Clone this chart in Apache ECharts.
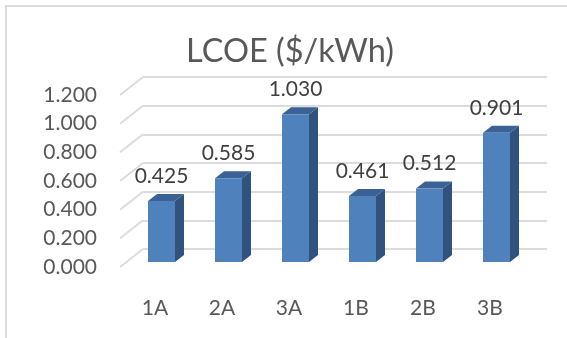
<!DOCTYPE html>
<html>
<head>
<meta charset="utf-8">
<style>html,body{margin:0;padding:0;background:#fff}#chart{width:567px;height:338px}</style>
<script src="https://cdn.jsdelivr.net/npm/echarts@6/dist/echarts.min.js"></script>
</head>
<body>
<div id="chart"></div>
<script>
const categories = ['1A', '2A', '3A', '1B', '2B', '3B'];
const lcoeValues = [0.425, 0.585, 1.030, 0.461, 0.512, 0.901];
const yTicks = [0, 0.2, 0.4, 0.6, 0.8, 1.0, 1.2];

// Pseudo-3D depth of the plot and of each column, in pixels
const WALL_DX = 23, WALL_DY = 18;
const BAR_DX = 9, BAR_DY = 7;
const GRID_COLOR = '#dcdcdc';
const FONT = 'Lato, "Open Sans", sans-serif';

const chart = echarts.init(document.getElementById('chart'), null, { renderer: 'canvas' });

function renderColumn(params, api) {
  const cat = api.value(0), val = api.value(1);
  const top = api.coord([cat, val]);
  const base = api.coord([cat, 0]);
  const w = api.size([1, 0])[0] * 0.403;
  const x0 = top[0] - w / 2, x1 = top[0] + w / 2;
  const y = top[1], b = base[1];
  const poly = (points, fill) => ({ type: 'polygon', shape: { points }, style: { fill } });
  return {
    type: 'group',
    children: [
      poly([[x1, y], [x1 + BAR_DX, y - BAR_DY], [x1 + BAR_DX, b - BAR_DY], [x1, b]], '#31527c'),
      poly([[x0, y], [x1, y], [x1 + BAR_DX, y - BAR_DY], [x0 + BAR_DX, y - BAR_DY]], '#3a6294'),
      poly([[x0, y], [x1, y], [x1, b], [x0, b]], '#4f81bd'),
      {
        type: 'text',
        style: {
          x: top[0], y: y - BAR_DY - 18,
          text: val.toFixed(3),
          align: 'center', verticalAlign: 'middle',
          font: '21px ' + FONT, fill: '#404040'
        },
        z2: 10
      }
    ]
  };
}

function renderWallEdge(params, api) {
  const p = api.coord([0, api.value(0)]);
  const x = params.coordSys.x;
  return {
    type: 'line',
    shape: { x1: x, y1: p[1], x2: x + WALL_DX, y2: p[1] - WALL_DY },
    style: { stroke: GRID_COLOR, lineWidth: 2 }
  };
}

chart.setOption({
  animation: false,
  backgroundColor: '#fff',
  title: {
    text: 'LCOE ($/kWh)',
    left: 285, top: 30, textAlign: 'center',
    textStyle: { fontFamily: FONT, fontSize: 32.5, fontWeight: 'normal', color: '#595959' }
  },
  graphic: [
    { type: 'line', shape: { x1: 5, y1: 6, x2: 567, y2: 6 }, style: { stroke: '#dcdcdc', lineWidth: 2 } },
    { type: 'line', shape: { x1: 6, y1: 5, x2: 6, y2: 338 }, style: { stroke: '#dcdcdc', lineWidth: 2 } }
  ],
  grid: [
    // front plane: axis labels and the slanted wall edges
    { left: 120, top: 95, width: 402, height: 172 },
    // back wall: horizontal gridlines
    { left: 143, top: 77, width: 404, height: 172 },
    // plane the columns stand on
    { left: 128, top: 90, width: 402, height: 172 }
  ],
  xAxis: [
    {
      gridIndex: 0, type: 'category', data: categories,
      axisLine: { show: false }, axisTick: { show: false },
      axisLabel: { fontFamily: FONT, fontSize: 21, color: '#595959', margin: 31, padding: [0, 0, 0, 3] }
    },
    { gridIndex: 1, type: 'value', show: false },
    { gridIndex: 2, type: 'category', data: categories, show: false }
  ],
  yAxis: [
    {
      gridIndex: 0, type: 'value', min: 0, max: 1.2, interval: 0.2,
      axisLine: { show: false }, axisTick: { show: false }, splitLine: { show: false },
      axisLabel: {
        fontFamily: FONT, fontSize: 21, color: '#595959', margin: 23,
        formatter: v => v.toFixed(3)
      }
    },
    {
      gridIndex: 1, type: 'value', min: 0, max: 1.2, interval: 0.2,
      axisLine: { show: false }, axisTick: { show: false }, axisLabel: { show: false },
      splitLine: { show: true, lineStyle: { color: GRID_COLOR, width: 2 } }
    },
    { gridIndex: 2, type: 'value', min: 0, max: 1.2, interval: 0.2, show: false }
  ],
  series: [
    {
      type: 'custom', name: 'wall edges', xAxisIndex: 0, yAxisIndex: 0,
      data: yTicks.map(v => [v]), encode: { y: 0 },
      renderItem: renderWallEdge, silent: true, z: 1
    },
    {
      type: 'custom', name: 'LCOE', xAxisIndex: 2, yAxisIndex: 2,
      data: lcoeValues.map((v, i) => [i, v]), encode: { x: 0, y: 1 },
      renderItem: renderColumn, z: 5
    }
  ]
});
</script>
</body>
</html>
